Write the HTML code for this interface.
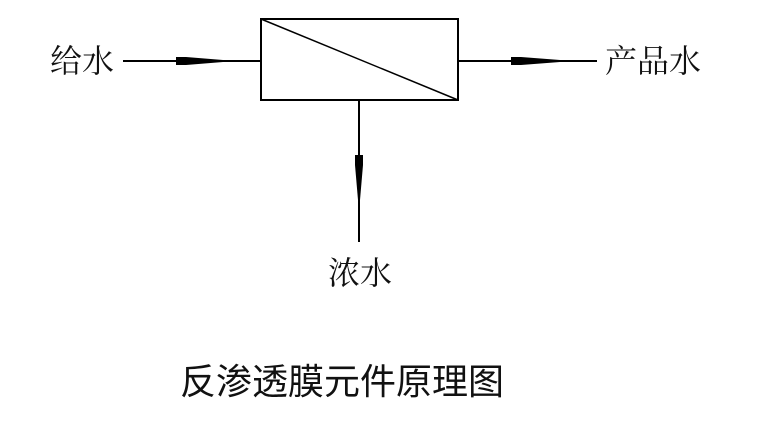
<!DOCTYPE html>
<html><head><meta charset="utf-8"><style>
body{margin:0;background:#fff;width:764px;height:433px;overflow:hidden;position:relative}
.t{position:absolute;font-family:"Liberation Serif","Noto Serif CJK SC",serif;font-size:32px;line-height:1;color:#111;white-space:nowrap}
</style></head><body>
<svg width="764" height="433" style="position:absolute;left:0;top:0">
<g stroke="#000" stroke-width="2" fill="none">
<rect x="261" y="19" width="197" height="81"/>
<line x1="261" y1="19" x2="458" y2="100" stroke-width="1.5"/>
<line x1="123" y1="61" x2="261" y2="61"/>
<line x1="458" y1="61" x2="597" y2="61"/>
<line x1="359" y1="100" x2="359" y2="242"/>
</g>
<g fill="#000">
<polygon points="176,57 186,57 223,60 223,62 186,65 176,65"/>
<polygon points="511,57 521,57 560,60 560,62 521,65 511,65"/>
<polygon points="355,155 363,155 363,165 360,200 358,200 355,165"/>
</g>
</svg>
<div class="t" style="left:50px;top:45px">给水</div>
<div class="t" style="left:605px;top:45px">产品水</div>
<div class="t" style="left:328px;top:257px">浓水</div>
<div class="t" style="left:180px;top:364px;font-size:36px;font-family:'Liberation Sans','Noto Sans CJK SC',sans-serif">反渗透膜元件原理图</div>
</body></html>
